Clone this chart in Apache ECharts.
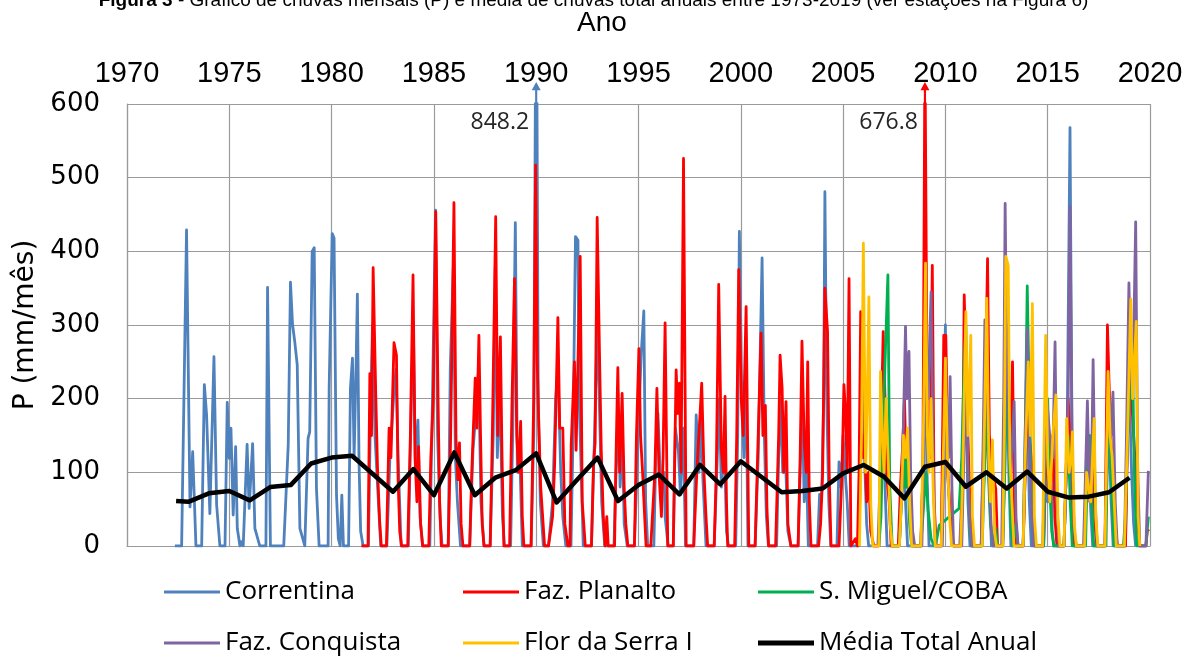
<!DOCTYPE html>
<html>
<head>
<meta charset="utf-8">
<title>Chuvas mensais</title>
<script src="https://cdn.jsdelivr.net/npm/echarts@6/dist/echarts.min.js"></script>
<style>
  html, body { margin: 0; padding: 0; background: #fff; }
  #chart { width: 1187px; height: 657px; }
</style>
</head>
<body>
<div id="chart"></div>
<script>
// Axis ticks
const yearTicks = [1970, 1975, 1980, 1985, 1990, 1995, 2000, 2005, 2010, 2015, 2020];
const pTicks = [0, 100, 200, 300, 400, 500, 600];

// Monthly rainfall per station, [decimal year, mm/month]
const correntina = [
  [1972.34,0],[1972.67,0],[1972.91,429],[1973.08,53],[1973.21,128],[1973.37,0],
  [1973.65,0],[1973.78,219],[1973.89,178],[1973.97,176],[1974.05,44],[1974.25,257],[1974.38,56],[1974.54,0],
  [1974.79,0],[1974.9,195],[1975.0,119],[1975.08,160],[1975.19,42],[1975.31,135],[1975.39,24],[1975.52,0],[1975.6,6],[1975.68,0],
  [1975.76,0],[1975.87,138],[1975.97,51],[1976.14,139],[1976.25,24],[1976.49,0],
  [1976.79,0],[1976.87,351],[1977.01,0],
  [1977.66,0],[1977.88,137],[1977.99,358],[1978.09,301],[1978.2,277],[1978.32,246],[1978.45,24],[1978.69,0],
  [1978.77,0],[1978.85,146],[1978.93,155],[1979.05,400],[1979.15,405],[1979.26,78],[1979.39,0],
  [1979.83,0],[1979.88,214],[1980.03,424],[1980.12,418],[1980.24,69],[1980.33,10],[1980.42,0],[1980.5,69],[1980.58,0],
  [1980.83,0],[1980.92,214],[1981.02,255],[1981.1,120],[1981.2,250],[1981.26,342],[1981.34,114],[1981.42,20],[1981.54,0],
  [1981.8,0],[1981.9,180],[1982.0,300],[1982.12,150],[1982.25,80],[1982.4,0],
  [1982.7,0],[1982.85,120],[1983.05,210],[1983.15,240],[1983.25,120],[1983.4,0],
  [1983.75,0],[1983.9,200],[1984.0,290],[1984.1,100],[1984.22,171],[1984.32,40],[1984.45,0],
  [1984.8,0],[1984.9,150],[1985.08,456],[1985.18,150],[1985.3,40],[1985.4,0],
  [1985.7,0],[1985.8,241],[1985.95,380],[1986.05,120],[1986.15,60],[1986.3,0],
  [1986.75,0],[1986.91,130],[1987.05,180],[1987.18,240],[1987.3,60],[1987.45,0],
  [1987.75,0],[1987.9,150],[1988.0,380],[1988.1,120],[1988.22,220],[1988.35,40],[1988.45,0],
  [1988.75,0],[1988.85,150],[1988.98,439],[1989.08,100],[1989.2,120],[1989.32,0],
  [1989.75,0],[1989.88,150],[1990.0,848.2],[1990.1,200],[1990.2,60],[1990.35,0],
  [1990.6,0],[1990.8,60],[1990.95,200],[1991.06,240],[1991.2,100],[1991.3,40],[1991.45,0],
  [1991.7,0],[1991.8,150],[1991.92,420],[1992.04,415],[1992.1,200],[1992.2,100],[1992.3,0],
  [1992.7,0],[1992.85,150],[1992.98,300],[1993.1,180],[1993.2,60],[1993.35,0],
  [1993.8,0],[1993.9,100],[1994.04,167],[1994.1,80],[1994.2,160],[1994.3,30],[1994.45,0],
  [1994.8,0],[1994.95,120],[1995.05,200],[1995.13,259],[1995.26,319],[1995.35,60],[1995.45,0],
  [1995.75,0],[1995.85,130],[1995.95,180],[1996.1,70],[1996.25,100],[1996.3,40],[1996.45,0],
  [1996.7,0],[1996.8,160],[1996.95,130],[1997.05,70],[1997.18,160],[1997.3,0],
  [1997.7,0],[1997.82,178],[1997.95,100],[1998.05,176],[1998.15,90],[1998.3,0],
  [1998.7,0],[1998.85,120],[1998.95,200],[1999.05,80],[1999.2,140],[1999.3,20],[1999.4,0],
  [1999.75,0],[1999.85,150],[1999.93,427],[2000.05,200],[2000.15,120],[2000.25,250],[2000.35,0],
  [2000.7,0],[2000.85,120],[2001.04,391],[2001.15,150],[2001.25,40],[2001.35,0],
  [2001.75,0],[2001.85,120],[2001.95,200],[2002.05,100],[2002.15,150],[2002.3,20],[2002.45,0],
  [2002.8,0],[2002.9,100],[2003.0,200],[2003.1,60],[2003.2,120],[2003.3,0],
  [2003.75,0],[2003.85,70],[2003.95,60],[2004.05,200],[2004.11,481],[2004.2,200],[2004.3,60],[2004.4,0],
  [2004.7,0],[2004.8,114],[2004.9,80],[2005.0,150],[2005.1,100],[2005.2,60],[2005.3,0],
  [2005.75,0],[2005.85,100],[2005.95,250],[2006.05,120],[2006.15,30],[2006.25,0],
  [2006.7,0],[2006.85,120],[2006.95,200],[2007.05,80],[2007.15,0],
  [2007.7,0],[2007.85,60],[2007.95,120],[2008.05,60],[2008.15,0],
  [2008.8,0],[2008.9,100],[2009.0,250],[2009.1,100],[2009.2,0],
  [2009.8,0],[2009.92,200],[2010.0,300],[2010.1,100],[2010.2,60],[2010.3,25],[2010.4,0],
  [2010.7,0],[2010.85,100],[2011.0,200],[2011.1,60],[2011.2,0],
  [2011.75,0],[2011.9,100],[2012.05,200],[2012.15,80],[2012.25,0],
  [2012.8,0],[2012.9,100],[2013.0,250],[2013.1,100],[2013.2,0],
  [2013.8,0],[2013.9,100],[2014.0,200],[2014.1,60],[2014.2,0],
  [2014.8,0],[2014.9,100],[2015.0,60],[2015.15,132],[2015.22,20],[2015.3,0],
  [2015.8,0],[2015.95,150],[2016.09,568],[2016.2,100],[2016.3,0],
  [2016.8,0],[2016.9,100],[2017.0,132],[2017.1,50],[2017.2,0],
  [2017.8,0],[2017.9,100],[2018.0,150],[2018.1,60],[2018.2,0],
  [2018.8,0],[2018.9,150],[2019.0,200],[2019.1,100],[2019.2,30],[2019.3,0]
];

const fazPlanalto = [
  [1981.46,0],[1981.78,0],[1981.87,234],[1981.95,150],[1982.03,378],[1982.16,203],[1982.25,100],[1982.35,33],[1982.43,0],
  [1982.68,0],[1982.81,160],[1982.9,120],[1983.05,276],[1983.17,259],[1983.25,90],[1983.33,20],[1983.42,0],
  [1983.72,0],[1983.85,150],[1983.98,368],[1984.08,120],[1984.17,60],[1984.25,135],[1984.35,30],[1984.45,0],
  [1984.75,0],[1984.85,120],[1984.97,200],[1985.09,454],[1985.2,205],[1985.28,60],[1985.36,0],
  [1985.7,0],[1985.82,150],[1985.98,466],[1986.08,146],[1986.17,90],[1986.25,140],[1986.33,30],[1986.42,0],
  [1986.75,0],[1986.85,100],[1987.02,228],[1987.1,160],[1987.2,286],[1987.28,150],[1987.36,30],[1987.45,0],
  [1987.75,0],[1987.85,140],[1988.02,447],[1988.12,150],[1988.25,284],[1988.33,120],[1988.42,0],
  [1988.7,0],[1988.82,200],[1988.94,363],[1989.05,150],[1989.14,100],[1989.24,169],[1989.32,40],[1989.4,0],
  [1989.75,0],[1989.88,200],[1989.97,517],[1990.05,250],[1990.13,160],[1990.22,80],[1990.41,0],
  [1990.6,0],[1990.8,40],[1990.9,110],[1991.06,310],[1991.15,160],[1991.3,160],[1991.4,30],[1991.55,0],
  [1991.65,0],[1991.71,137],[1991.87,250],[1991.95,130],[1992.15,393],[1992.25,60],[1992.4,0],
  [1992.7,0],[1992.8,110],[1992.88,140],[1992.98,446],[1993.1,250],[1993.18,130],[1993.28,40],[1993.37,0],[1993.45,40],[1993.52,0],
  [1993.83,0],[1993.9,120],[1993.99,242],[1994.08,100],[1994.2,207],[1994.3,80],[1994.38,30],[1994.48,0],
  [1994.8,0],[1994.9,150],[1995.02,268],[1995.1,150],[1995.2,100],[1995.3,40],[1995.37,0],
  [1995.6,0],[1995.8,100],[1995.9,214],[1996.0,100],[1996.12,40],[1996.2,120],[1996.3,303],[1996.43,0],
  [1996.7,0],[1996.84,239],[1996.92,180],[1997.0,221],[1997.08,100],[1997.2,526],[1997.33,0],
  [1997.7,0],[1997.85,100],[1997.97,160],[1998.09,221],[1998.2,100],[1998.3,40],[1998.38,0],
  [1998.7,0],[1998.8,100],[1998.92,355],[1999.05,130],[1999.15,100],[1999.23,203],[1999.3,60],[1999.36,0],
  [1999.7,0],[1999.8,150],[1999.9,375],[2000.02,200],[2000.12,150],[2000.26,325],[2000.39,0],
  [2000.7,0],[2000.85,150],[2000.99,289],[2001.08,150],[2001.2,191],[2001.28,50],[2001.36,0],
  [2001.7,0],[2001.85,150],[2001.92,259],[2002.02,214],[2002.1,100],[2002.21,196],[2002.3,30],[2002.45,0],
  [2002.8,0],[2002.9,120],[2002.99,278],[2003.1,140],[2003.2,100],[2003.27,250],[2003.35,60],[2003.43,0],
  [2003.8,0],[2003.9,30],[2004.0,100],[2004.11,350],[2004.24,291],[2004.32,100],[2004.41,0],
  [2004.8,0],[2004.95,100],[2005.04,219],[2005.12,180],[2005.2,100],[2005.29,363],[2005.38,0],
  [2005.45,0],[2005.6,10],[2005.7,0],[2005.78,100],[2005.86,318],[2005.95,120],[2006.05,150],[2006.15,60],[2006.25,100],[2006.35,20],[2006.5,0],
  [2006.75,0],[2006.85,150],[2006.96,291],[2007.05,200],[2007.15,90],[2007.25,60],[2007.35,0],
  [2007.7,0],[2007.8,80],[2007.9,130],[2008.0,200],[2008.1,80],[2008.2,100],[2008.3,30],[2008.4,0],
  [2008.8,0],[2008.9,100],[2009.0,676.8],[2009.12,150],[2009.25,120],[2009.36,381],[2009.45,60],[2009.55,0],
  [2009.8,0],[2009.92,286],[2010.02,286],[2010.12,100],[2010.2,60],[2010.3,20],[2010.4,0],
  [2010.75,0],[2010.85,120],[2010.92,341],[2011.0,250],[2011.1,150],[2011.2,60],[2011.3,0],
  [2011.75,0],[2011.85,120],[2011.95,200],[2012.06,390],[2012.15,150],[2012.3,100],[2012.46,78],[2012.55,0],
  [2012.8,0],[2012.9,150],[2013.0,300],[2013.1,200],[2013.18,120],[2013.28,250],[2013.38,40],[2013.45,0],
  [2013.8,0],[2013.9,100],[2014.0,200],[2014.1,150],[2014.2,120],[2014.3,40],[2014.4,0],
  [2014.8,0],[2014.9,150],[2015.0,100],[2015.1,60],[2015.25,150],[2015.35,40],[2015.45,0],
  [2015.8,0],[2015.9,100],[2016.0,200],[2016.1,150],[2016.2,60],[2016.3,0],
  [2016.8,0],[2016.9,120],[2017.0,150],[2017.1,60],[2017.22,180],[2017.3,30],[2017.4,0],
  [2017.8,0],[2017.92,300],[2018.0,220],[2018.1,140],[2018.2,100],[2018.3,30],[2018.4,0],
  [2018.8,0],[2018.9,150],[2019.0,250],[2019.1,200],[2019.2,150],[2019.3,100],[2019.4,30],[2019.5,0],
  [2019.8,0],[2019.87,22],[2019.95,20]
];

const sMiguel = [
  [2006.75,0],[2006.85,40],[2006.95,150],[2007.05,250],[2007.19,368],[2007.28,80],[2007.4,0],
  [2007.75,0],[2007.85,60],[2007.95,148],[2008.05,80],[2008.15,120],[2008.25,30],[2008.35,0],
  [2008.8,0],[2008.95,60],[2009.05,100],[2009.15,50],[2009.3,10],[2009.45,0],[2009.55,5],[2009.7,28],
  [2010.67,51],[2010.8,120],[2010.92,250],[2011.0,300],[2011.1,100],[2011.2,20],[2011.3,0],
  [2011.8,0],[2011.9,100],[2012.0,200],[2012.1,100],[2012.2,30],[2012.35,0],[2012.45,25],[2012.55,0],
  [2012.8,0],[2012.9,100],[2013.0,250],[2013.1,150],[2013.2,30],[2013.3,0],[2013.45,30],[2013.55,0],
  [2013.8,0],[2013.9,150],[2014.0,353],[2014.1,200],[2014.2,80],[2014.3,10],[2014.4,0],
  [2014.8,0],[2014.9,150],[2015.0,200],[2015.1,80],[2015.2,20],[2015.3,0],
  [2015.8,0],[2015.9,100],[2016.0,150],[2016.1,60],[2016.2,0],
  [2016.85,0],[2016.95,120],[2017.05,150],[2017.15,60],[2017.25,0],
  [2017.85,0],[2017.95,200],[2018.05,150],[2018.15,60],[2018.25,0],
  [2018.7,0],[2018.8,40],[2018.9,150],[2019.0,200],[2019.14,257],[2019.25,80],[2019.35,0],
  [2019.8,0],[2019.92,40]
];

const fazConquista = [
  [2007.75,0],[2007.9,100],[2008.05,298],[2008.12,200],[2008.22,264],[2008.3,100],[2008.4,20],[2008.5,0],
  [2008.85,0],[2008.95,150],[2009.05,250],[2009.15,200],[2009.3,345],[2009.4,120],[2009.5,0],
  [2009.85,0],[2009.95,150],[2010.05,200],[2010.15,120],[2010.23,230],[2010.32,80],[2010.4,0],
  [2010.8,0],[2010.9,120],[2011.0,228],[2011.1,100],[2011.2,30],[2011.3,0],
  [2011.75,0],[2011.85,150],[2011.93,307],[2012.05,200],[2012.15,80],[2012.25,20],[2012.35,0],
  [2012.75,0],[2012.85,200],[2012.92,465],[2013.0,250],[2013.1,150],[2013.2,100],[2013.36,196],[2013.45,40],[2013.55,0],
  [2013.8,0],[2013.9,150],[2014.0,295],[2014.1,150],[2014.2,60],[2014.3,0],
  [2014.75,0],[2014.85,100],[2014.95,200],[2015.1,150],[2015.25,120],[2015.36,277],[2015.45,60],[2015.55,0],
  [2015.8,0],[2015.9,100],[2016.0,200],[2016.09,461],[2016.2,100],[2016.3,20],[2016.4,0],
  [2016.75,0],[2016.85,100],[2016.94,197],[2017.05,60],[2017.15,120],[2017.22,253],[2017.32,60],[2017.42,0],
  [2017.8,0],[2017.9,150],[2018.0,200],[2018.1,150],[2018.19,209],[2018.3,60],[2018.4,0],
  [2018.75,0],[2018.85,150],[2018.97,357],[2019.05,250],[2019.15,200],[2019.3,440],[2019.4,100],[2019.5,0],
  [2019.8,0],[2019.92,102]
];

const florDaSerra = [
  [2005.8,0],[2005.9,150],[2005.99,411],[2006.1,100],[2006.18,200],[2006.26,338],[2006.35,60],[2006.45,0],
  [2006.75,0],[2006.83,237],[2006.92,150],[2007.0,100],[2007.1,200],[2007.2,120],[2007.3,30],[2007.4,0],
  [2007.75,0],[2007.85,60],[2007.95,150],[2008.05,120],[2008.15,160],[2008.25,60],[2008.35,0],
  [2008.8,0],[2008.92,150],[2009.03,384],[2009.12,150],[2009.2,100],[2009.3,200],[2009.4,80],[2009.5,0],
  [2009.8,0],[2009.92,150],[2010.0,255],[2010.1,120],[2010.2,40],[2010.3,0],
  [2010.75,0],[2010.85,100],[2011.0,318],[2011.1,150],[2011.24,286],[2011.32,40],[2011.42,0],
  [2011.8,0],[2011.9,150],[2012.02,336],[2012.12,120],[2012.2,60],[2012.3,144],[2012.4,20],[2012.5,0],
  [2012.8,0],[2012.88,150],[2012.95,393],[2013.07,381],[2013.15,120],[2013.25,60],[2013.35,0],
  [2013.8,0],[2013.9,120],[2014.05,250],[2014.15,150],[2014.25,329],[2014.35,40],[2014.45,0],
  [2014.75,0],[2014.9,286],[2015.0,120],[2015.1,60],[2015.25,150],[2015.4,205],[2015.5,40],[2015.6,0],
  [2015.8,0],[2015.93,173],[2016.05,100],[2016.15,120],[2016.21,155],[2016.3,30],[2016.4,0],
  [2016.8,0],[2016.9,100],[2017.0,80],[2017.1,60],[2017.27,173],[2017.35,40],[2017.45,0],
  [2017.8,0],[2017.95,237],[2018.05,150],[2018.15,120],[2018.25,60],[2018.35,0],
  [2018.75,0],[2018.9,150],[2019.06,335],[2019.15,200],[2019.33,305],[2019.42,40],[2019.5,0]
];

// Annual mean of all stations
const mediaAnual = [
  [1972.4,61],[1973,60],[1974,71.5],[1975,74.6],[1976,62],[1977,80],[1978,82.7],[1979,112],[1980,120],
  [1981,122.5],[1982,98],[1983,73.7],[1984,104.5],[1985,69],[1986,127],[1987,69],[1988,92.7],[1989,103],
  [1990,125.8],[1991,59],[1992,90],[1993,120],[1994,61],[1995,82.7],[1996,97],[1997,70],[1998,110],
  [1999,83.7],[2000,115],[2001,94],[2002,73],[2003,74.6],[2004,78],[2005,98.6],[2006,110],[2007,94],
  [2008,64.7],[2009,107.6],[2010,114],[2011,80.5],[2012,100],[2013,78],[2014,101],[2015,73.7],
  [2016,66],[2017,67],[2018,73],[2019,92.7]
];

const stations = [
  { name: 'Correntina',        data: correntina,   color: '#4F81BD', width: 2.8 },
  { name: 'Faz. Planalto',     data: fazPlanalto,  color: '#FF0000', width: 2.8 },
  { name: 'S. Miguel/COBA',    data: sMiguel,      color: '#00B050', width: 2.8 },
  { name: 'Faz. Conquista',    data: fazConquista, color: '#8064A2', width: 2.8 },
  { name: 'Flor da Serra I',   data: florDaSerra,  color: '#FFC000', width: 2.8 },
  { name: 'Média Total Anual', data: mediaAnual,   color: '#000000', width: 4.5 }
];

// Peaks that run past the top of the axis: arrow + value label
const offScalePeaks = [
  { name: 'Correntina', year: 1990.0 },
  { name: 'Faz. Planalto', year: 2009.0 }
];

const legendSlots = [
  { left: 164, top: 577 }, { left: 463, top: 577 }, { left: 758, top: 577 },
  { left: 164, top: 628 }, { left: 463, top: 628 }, { left: 758, top: 628 }
];

const yMax = pTicks[pTicks.length - 1];
const arrowPath = 'path://M5 0 L10 9 L6.2 9 L6.2 24 L3.8 24 L3.8 9 L0 9 Z';

const series = stations.map(function (s) {
  const cfg = {
    name: s.name,
    type: 'line',
    data: s.data,
    symbol: 'none',
    showSymbol: false,
    animation: false,
    clip: true,
    lineStyle: { color: s.color, width: s.width, join: 'round' },
    itemStyle: { color: s.color },
    emphasis: { disabled: true }
  };
  const peaks = offScalePeaks.filter(function (p) { return p.name === s.name; });
  if (peaks.length) {
    const mp = [];
    peaks.forEach(function (p) {
      const pt = s.data.find(function (d) { return d[0] === p.year; });
      mp.push({
        coord: [p.year, yMax],
        symbol: arrowPath,
        symbolSize: [9, 22],
        symbolOffset: [0, -11],
        itemStyle: { color: s.color },
        label: { show: false }
      });
      mp.push({
        coord: [p.year, yMax * 0.958],
        value: pt[1],
        symbol: 'circle',
        symbolSize: 0,
        label: {
          show: true,
          position: 'left',
          distance: 7,
          formatter: pt[1].toFixed(1),
          fontFamily: 'Open Sans',
          fontSize: 23,
          color: '#262626'
        }
      });
    });
    cfg.markPoint = { silent: true, animation: false, data: mp };
  }
  return cfg;
});

// One legend per slot so the two rows line up in columns
const legends = stations.map(function (s, i) {
  const bar = Math.round(s.width + 0.5);
  return {
    data: [{ name: s.name, icon: 'rect' }],
    left: legendSlots[i].left,
    top: legendSlots[i].top,
    orient: 'horizontal',
    padding: 0,
    itemWidth: 56,
    itemHeight: bar,
    selectedMode: false,
    itemStyle: { color: s.color, borderWidth: 0 },
    lineStyle: { width: 0 },
    textStyle: { fontFamily: 'Open Sans', fontSize: 26, color: '#000', lineHeight: 30 }
  };
});

const chart = echarts.init(document.getElementById('chart'), null, { renderer: 'canvas' });
chart.setOption({
  backgroundColor: '#ffffff',
  animation: false,
  title: [
    {
      text: '{b|Figura 3} - Gráfico de chuvas mensais (P) e média de chuvas total anuais entre 1973-2019 (ver estações na Figura 6)',
      left: 'center',
      top: -9,
      padding: 0,
      textStyle: {
        fontFamily: 'Liberation Sans',
        fontSize: 19,
        fontWeight: 'normal',
        color: '#000',
        rich: { b: { fontFamily: 'Liberation Sans', fontSize: 19, fontWeight: 'bold', color: '#000' } }
      }
    },
    {
      text: 'Ano',
      left: 577,
      top: 9,
      padding: 0,
      textStyle: { fontFamily: 'Liberation Sans', fontSize: 28, fontWeight: 'normal', color: '#000' }
    }
  ],
  legend: legends,
  grid: { left: 127, right: 37, top: 104, bottom: 111, containLabel: false },
  xAxis: {
    type: 'value',
    position: 'top',
    min: yearTicks[0],
    max: yearTicks[yearTicks.length - 1],
    interval: yearTicks[1] - yearTicks[0],
    axisLine: { show: true, lineStyle: { color: '#9a9a9a', width: 1.2 } },
    axisTick: { show: false },
    axisLabel: {
      fontFamily: 'Liberation Sans', fontSize: 29, color: '#000', margin: 16,
      formatter: function (v) { return String(v); }
    },
    splitLine: { show: true, lineStyle: { color: '#9a9a9a', width: 1.2 } }
  },
  yAxis: {
    type: 'value',
    min: pTicks[0],
    max: yMax,
    interval: pTicks[1] - pTicks[0],
    name: 'P (mm/mês)',
    nameLocation: 'middle',
    nameGap: 86,
    nameRotate: 90,
    nameTextStyle: { fontFamily: 'DejaVu Sans', fontSize: 28, color: '#000' },
    axisLine: { show: true, lineStyle: { color: '#9a9a9a', width: 1.2 } },
    axisTick: { show: false },
    axisLabel: { fontFamily: 'DejaVu Sans', fontSize: 26, color: '#000', margin: 27 },
    splitLine: { show: true, lineStyle: { color: '#9a9a9a', width: 1.2 } }
  },
  series: series
});
</script>
</body>
</html>
